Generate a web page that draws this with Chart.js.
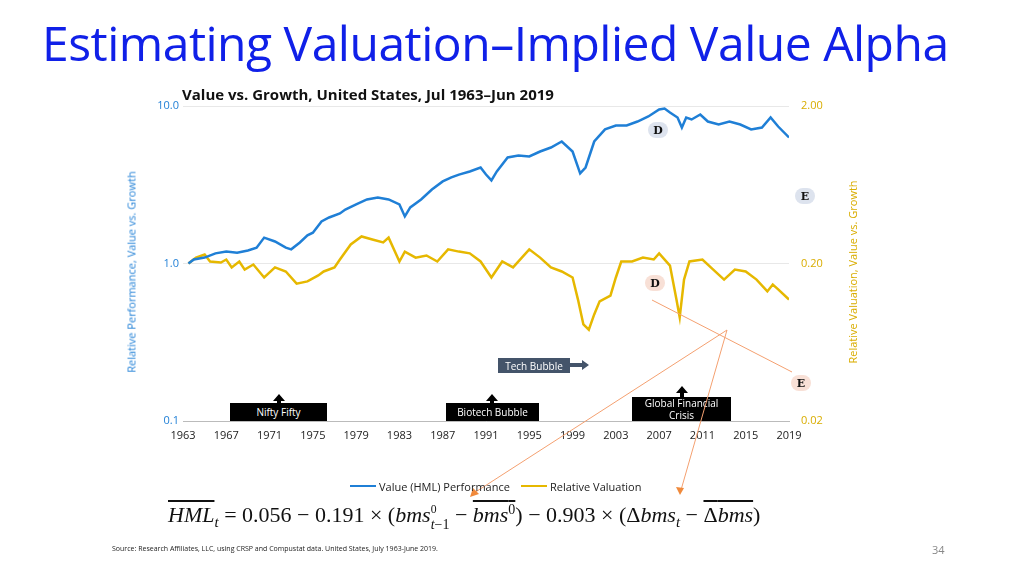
<!DOCTYPE html>
<html><head><meta charset="utf-8">
<script src="https://cdn.jsdelivr.net/npm/chart.js@4"></script>
<style>
body{margin:0;width:1024px;height:575px;position:relative;background:#fff;font-family:"Open Sans",sans-serif;overflow:hidden}
.a{position:absolute;white-space:nowrap}
.box{position:absolute;background:#000;color:#fff;font-size:10px;display:flex;align-items:center;justify-content:center;text-align:center;line-height:12px}
.c{position:absolute;width:20px;height:16px;border-radius:8px;font:bold 11px "DejaVu Serif",serif;display:flex;align-items:center;justify-content:center;color:#111}
</style></head><body>
<canvas id="ch" width="1024" height="575" style="position:absolute;left:0;top:0"></canvas>
<div class="a" style="left:42px;top:10px;font-size:48px;color:#1020e8;letter-spacing:-0.5px">Estimating Valuation–Implied Value Alpha</div>
<div class="a" style="left:182px;top:84px;font-size:15px;font-weight:bold;color:#111">Value vs. Growth, United States, Jul 1963–Jun 2019</div>
<div class="a" style="left:131px;top:272px;font-size:11px;color:#1f7fd6;transform:translate(-50%,-50%) rotate(-90deg)">Relative Performance, Value vs. Growth</div>
<div class="a" style="left:852px;top:272px;font-size:11px;color:#d9ad00;transform:translate(-50%,-50%) rotate(-90deg)">Relative Valuation, Value vs. Growth</div>
<div class="box" style="left:230px;top:403px;width:97px;height:18px">Nifty Fifty</div>
<div class="box" style="left:446px;top:403px;width:93px;height:18px">Biotech Bubble</div>
<div class="box" style="left:632px;top:397px;width:99px;height:24px">Global Financial<br>Crisis</div>
<div class="box" style="left:498px;top:358px;width:72px;height:15px;background:#44546a">Tech Bubble</div>
<div class="c" style="left:648px;top:122px;background:#dde3ee">D</div>
<div class="c" style="left:645px;top:275px;background:#f8e0d6">D</div>
<div class="c" style="left:795px;top:188px;background:#dde3ee">E</div>
<div class="c" style="left:791px;top:375px;background:#f8e0d6">E</div>
<svg style="position:absolute;left:0;top:0" width="1024" height="575">
<g fill="#000"><polygon points="279,394 273,401 277,401 277,404 281,404 281,401 285,401"/>
<polygon points="492,394 486,401 490,401 490,404 494,404 494,401 498,401"/>
<polygon points="682,386 676,393 680,393 680,398 684,398 684,393 688,393"/></g>
<polygon fill="#44546a" points="589,365 582,360 582,363 570,363 570,367 582,367 582,370"/>
<g stroke="#f4a070" stroke-width="1" fill="none"><line x1="652" y1="300" x2="792" y2="372"/><line x1="727" y1="330" x2="474" y2="493"/><line x1="727" y1="330" x2="681" y2="490"/></g>
<g fill="#f08a3c"><polygon points="470,497 473,488 479,494"/><polygon points="680,495 676,487 684,488"/></g>
<line x1="350" y1="486" x2="376" y2="486" stroke="#1f7fd6" stroke-width="2"/>
<line x1="521" y1="486" x2="547" y2="486" stroke="#e6b800" stroke-width="2"/>
</svg>
<div class="a" style="left:379px;top:479px;font-size:11px;color:#222">Value (HML) Performance</div>
<div class="a" style="left:550px;top:479px;font-size:11px;color:#222">Relative Valuation</div>
<div class="a" style="left:168px;top:502px;font-size:22px;font-family:'Liberation Serif',serif;color:#111"><i><span style="text-decoration:overline">HML</span><sub style="font-size:15px">t</sub></i> = 0.056 − 0.191 × (<i>bms</i><span style="display:inline-block;vertical-align:middle;line-height:10px;font-size:14px;text-align:left"><sup>0</sup><br><i>t</i>−1</span> − <span style="text-decoration:overline"><i>bms</i><sup style="font-size:14px">0</sup></span>) − 0.903 × (Δ<i>bms<sub style="font-size:15px">t</sub></i> − <span style="text-decoration:overline">Δ<i>bms</i></span>)</div>
<div class="a" style="left:112px;top:544px;font-size:7px;color:#222">Source: Research Affiliates, LLC, using CRSP and Compustat data. United States, July 1963-June 2019.</div>
<div class="a" style="left:932px;top:542px;font-size:11px;color:#888">34</div>
<script>
const blueYears=[1963.5,1964,1965,1966,1967,1968,1969,1969.8,1970.5,1971.5,1972.5,1973,1973.8,1974.5,1975,1975.8,1976.5,1977.5,1978,1979,1980,1981,1982,1983,1983.5,1984,1985,1986,1987,1987.8,1988.5,1989.5,1990.5,1991,1991.5,1992,1993,1994,1995,1996,1997,1998,1999,1999.7,2000.2,2001,2002,2003,2004,2005,2006,2007,2007.5,2008,2008.7,2009.1,2009.5,2010,2010.8,2011.5,2012.5,2013.5,2014.5,2015.5,2016.5,2017.3,2018,2019];
const blueValues=[1.00,1.06,1.09,1.16,1.19,1.17,1.21,1.26,1.46,1.38,1.26,1.23,1.36,1.51,1.57,1.85,1.96,2.08,2.20,2.37,2.55,2.62,2.55,2.37,1.99,2.27,2.55,2.95,3.32,3.52,3.67,3.84,4.07,3.67,3.37,3.84,4.71,4.85,4.78,5.14,5.45,5.95,5.14,3.73,4.07,5.95,7.10,7.52,7.52,7.97,8.58,9.50,9.64,9.09,8.45,7.30,8.45,8.21,8.83,7.97,7.63,7.97,7.63,7.10,7.30,8.45,7.41,6.31];
const yellowYears=[1963.5,1964.2,1965,1965.5,1966.5,1967,1967.5,1968.2,1968.7,1969.5,1970.5,1971.5,1972.5,1973.5,1974.5,1975.5,1976,1977,1977.5,1978.5,1979.5,1980.5,1981.5,1982,1983,1983.5,1984.5,1985.5,1986.5,1987.5,1988.5,1989.5,1990.5,1991.5,1992.5,1993.5,1994.5,1995,1996,1997,1998,1999,1999.5,2000,2000.5,2001,2001.5,2002.5,2003,2003.5,2004.5,2005.5,2006.5,2007,2008,2008.6,2008.9,2009.3,2009.8,2011,2012,2013,2014,2015,2016,2017,2017.5,2018,2019];
const yellowValues=[0.200,0.218,0.228,0.206,0.203,0.212,0.189,0.206,0.183,0.197,0.163,0.189,0.178,0.149,0.154,0.168,0.178,0.189,0.212,0.264,0.297,0.284,0.272,0.292,0.206,0.238,0.218,0.225,0.206,0.246,0.238,0.232,0.206,0.163,0.206,0.189,0.225,0.246,0.218,0.189,0.178,0.163,0.118,0.082,0.076,0.095,0.115,0.125,0.163,0.206,0.206,0.218,0.212,0.232,0.194,0.118,0.091,0.158,0.206,0.212,0.183,0.158,0.183,0.178,0.158,0.133,0.147,0.137,0.118];
const leftTicks=[0.1,1,10], rightTicks=[0.02,0.2,2];
const xMin=1963,xMax=2019,xStep=4;
const pts=(xs,ys)=>xs.map((x,i)=>({x,y:ys[i]}));
new Chart(document.getElementById('ch'),{type:'line',
data:{datasets:[
{data:pts(blueYears,blueValues),borderColor:'#1f7fd6',borderWidth:2.5,pointRadius:0,yAxisID:'y',tension:0},
{data:pts(yellowYears,yellowValues),borderColor:'#e6b800',borderWidth:2.5,pointRadius:0,yAxisID:'y1',tension:0}]},
options:{responsive:false,animation:false,events:[],
layout:{padding:{left:115,right:154,top:106,bottom:124}},
plugins:{legend:{display:false},tooltip:{enabled:false}},
scales:{
x:{type:'linear',min:xMin,max:xMax,afterFit:s=>{s.height=30},grid:{display:false,drawTicks:false},border:{color:'#bbb'},
 ticks:{stepSize:xStep,callback:v=>String(v),color:'#222',font:{size:11,family:'Open Sans'},padding:8,maxRotation:0,autoSkip:false}},
y:{type:'logarithmic',position:'left',min:0.1,max:10,afterFit:s=>{s.width=68},afterBuildTicks:s=>{s.ticks=leftTicks.map(v=>({value:v}))},
 grid:{color:'#e8e8e8',drawTicks:false},border:{display:false},ticks:{color:'#1f7fd6',font:{size:11,family:'Open Sans'},padding:4,callback:v=>v.toFixed(1)}},
y1:{type:'logarithmic',position:'right',min:0.02,max:2,afterFit:s=>{s.width=81},afterBuildTicks:s=>{s.ticks=rightTicks.map(v=>({value:v}))},
 grid:{display:false,drawTicks:false},border:{display:false},ticks:{color:'#d9ad00',font:{size:11,family:'Open Sans'},padding:12,callback:v=>v.toFixed(2)}}
}}});
</script></body></html>
